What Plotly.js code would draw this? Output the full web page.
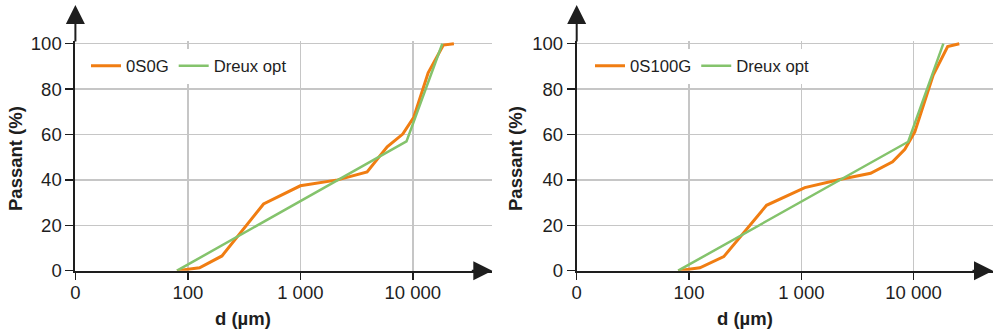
<!DOCTYPE html>
<html>
<head>
<meta charset="utf-8">
<script src="https://cdn.plot.ly/plotly-3.0.1.min.js"></script>
<style>html,body{margin:0;padding:0;background:#fff;}#chart{width:995px;height:334px;}</style>
</head>
<body>
<div id="chart"></div>
<script>
// ---- data ----
const sizes0S0G = [80, 127, 201, 471, 1000, 2150, 3925, 5920, 8140, 10200, 13700, 18700, 23200];
const pass0S0G  = [0, 1.3, 6.5, 29.4, 37.4, 40.0, 43.5, 54.6, 60.2, 67.6, 87.2, 99.4, 100];
const sizesDreuxLeft = [80, 8790, 18300];
const passDreuxLeft  = [0, 57.0, 100];

const sizes0S100G = [80, 125, 204, 490, 1075, 2200, 4140, 6500, 8350, 10250, 14950, 20100, 25500];
const pass0S100G  = [0, 1.3, 6.2, 28.8, 36.6, 40.2, 42.9, 48.0, 53.5, 61.2, 86.2, 98.7, 100];
const sizesDreuxRight = [80, 8950, 18400];
const passDreuxRight  = [0, 56.8, 100];

const xTickVals = [10, 100, 1000, 10000];
const xTickText = ['0', '100', '1 000', '10 000'];
const yTickVals = [0, 20, 40, 60, 80, 100];
const seriesNamesLeft = ['0S0G', 'Dreux opt'];
const seriesNamesRight = ['0S100G', 'Dreux opt'];
const xTitle = 'd (µm)';
const yTitle = 'Passant (%)';

// ---- styling ----
const FONT = 'Liberation Sans, Arial, sans-serif';
const ORANGE = '#F07D12';
const GREEN = '#84C36C';
const DARK = '#1e1e1e';
const GRID = '#c6c6c6';
const W = 995, H = 334;
const px = v => v / W;
const py = v => (H - v) / H;

const traces = [
  {x: sizes0S0G, y: pass0S0G, name: seriesNamesLeft[0], type: 'scatter', mode: 'lines',
   line: {color: ORANGE, width: 3}, xaxis: 'x', yaxis: 'y', legend: 'legend'},
  {x: sizesDreuxLeft, y: passDreuxLeft, name: seriesNamesLeft[1], type: 'scatter', mode: 'lines',
   line: {color: GREEN, width: 2.5}, xaxis: 'x', yaxis: 'y', legend: 'legend'},
  {x: sizes0S100G, y: pass0S100G, name: seriesNamesRight[0], type: 'scatter', mode: 'lines',
   line: {color: ORANGE, width: 3}, xaxis: 'x2', yaxis: 'y2', legend: 'legend2'},
  {x: sizesDreuxRight, y: passDreuxRight, name: seriesNamesRight[1], type: 'scatter', mode: 'lines',
   line: {color: GREEN, width: 2.5}, xaxis: 'x2', yaxis: 'y2', legend: 'legend2'}
];

const yDomain = [py(270.7), py(270.7 - 101 * 2.27)];
const xAxisCommon = {
  type: 'log', range: [1, 4.707], tickvals: xTickVals, ticktext: xTickText,
  showline: true, linecolor: DARK, linewidth: 2,
  ticks: 'outside', ticklen: 7, tickwidth: 1.5, tickcolor: DARK, ticklabelstandoff: -3,
  showgrid: true, gridcolor: GRID, gridwidth: 1.5, zeroline: false,
  tickfont: {family: FONT, size: 18.5, color: DARK}, automargin: false, fixedrange: true
};
const yAxisCommon = {
  range: [0, 101], tickvals: yTickVals, domain: yDomain,
  showline: true, linecolor: DARK, linewidth: 2,
  ticks: 'outside', ticklen: 8, tickwidth: 1.5, tickcolor: DARK,
  showgrid: true, gridcolor: GRID, gridwidth: 1.5, zeroline: false,
  tickfont: {family: FONT, size: 18.5, color: DARK}, automargin: false, fixedrange: true
};

const leftAxisX = 75.4, rightAxisX = 576.7;
const leftEnd = 492.3, rightEnd = 993;

function arrowAnn(x, y, ax, ay) {
  return {xref: 'paper', yref: 'paper', x: x, y: y, ax: ax, ay: ay, text: '',
          showarrow: true, arrowhead: 2, arrowsize: 1.9, arrowwidth: 2, arrowcolor: DARK};
}
function titleAnn(text, x, y, angle) {
  return {xref: 'paper', yref: 'paper', x: x, y: y, text: text, showarrow: false,
          xanchor: 'center', yanchor: 'middle', textangle: angle,
          font: {family: FONT, size: 18.5, color: DARK, weight: 'bold'}};
}

const layout = {
  width: W, height: H,
  margin: {l: 0, r: 0, t: 0, b: 0},
  paper_bgcolor: '#ffffff', plot_bgcolor: '#ffffff',
  font: {family: FONT, color: DARK},
  xaxis: Object.assign({}, xAxisCommon, {domain: [px(leftAxisX), px(leftEnd)], anchor: 'y'}),
  yaxis: Object.assign({}, yAxisCommon, {anchor: 'x'}),
  xaxis2: Object.assign({}, xAxisCommon, {domain: [px(rightAxisX), px(rightEnd)], anchor: 'y2'}),
  yaxis2: Object.assign({}, yAxisCommon, {anchor: 'x2'}),
  legend: {x: px(86), y: py(66), xanchor: 'left', yanchor: 'middle', orientation: 'h',
           bgcolor: '#ffffff', font: {family: FONT, size: 16.7, color: DARK}, itemwidth: 30},
  legend2: {x: px(590), y: py(66), xanchor: 'left', yanchor: 'middle', orientation: 'h',
            bgcolor: '#ffffff', font: {family: FONT, size: 16.7, color: DARK}, itemwidth: 30},
  annotations: [
    arrowAnn(px(leftAxisX), py(5), 0, 38),
    arrowAnn(px(leftEnd), py(270.7), -22, 0),
    arrowAnn(px(rightAxisX), py(5), 0, 38),
    arrowAnn(px(rightEnd), py(270.7), -22, 0),
    titleAnn(yTitle, px(15), py(159), -90),
    titleAnn(xTitle, px(243), py(318.5), 0),
    titleAnn(yTitle, px(515), py(159), -90),
    titleAnn(xTitle, px(745), py(318.5), 0)
  ],
  showlegend: true
};

Plotly.newPlot('chart', traces, layout, {displayModeBar: false, staticPlot: true});
</script>
</body>
</html>
